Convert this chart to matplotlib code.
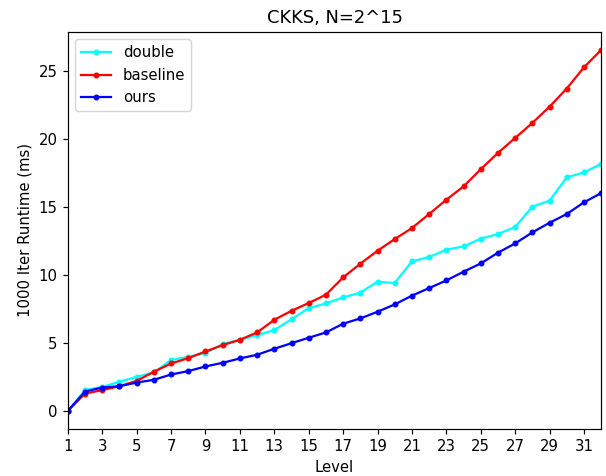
""" CKKS runtime per level plot"""

import matplotlib
matplotlib.use("Agg")
import matplotlib.pyplot as plt

levels = list(range(1, 33))

double = [0.0, 1.52, 1.76, 2.13, 2.5, 2.82, 3.73, 3.97, 4.26, 4.9,
          5.22, 5.56, 5.93, 6.72, 7.55, 7.89, 8.33, 8.68, 9.49, 9.39,
          10.98, 11.3, 11.84, 12.08, 12.65, 12.99, 13.5, 15.0, 15.44, 17.15,
          17.52, 18.14]
baseline = [0.0, 1.27, 1.52, 1.81, 2.2, 2.87, 3.48, 3.87, 4.36, 4.83,
            5.22, 5.76, 6.69, 7.35, 7.92, 8.53, 9.8, 10.81, 11.76, 12.62,
            13.43, 14.46, 15.51, 16.49, 17.75, 18.95, 20.05, 21.15, 22.35, 23.68,
            25.24, 26.52]
ours = [0.0, 1.42, 1.71, 1.81, 2.08, 2.28, 2.67, 2.92, 3.26, 3.53,
        3.85, 4.12, 4.56, 4.97, 5.37, 5.76, 6.4, 6.79, 7.28, 7.82,
        8.46, 9.02, 9.58, 10.22, 10.83, 11.62, 12.3, 13.11, 13.82, 14.46,
        15.32, 16.0]

# the reference looks like a default figure scaled up a bit, so use a higher dpi
dpi = 107.5
fig = plt.figure(figsize=(606 / dpi, 476 / dpi), dpi=dpi)
ax = fig.add_subplot(111)
fig.subplots_adjust(left=0.112, right=0.992, top=0.933, bottom=0.099)

ax.plot(levels, double, ".-", color="cyan", label="double")
ax.plot(levels, baseline, ".-", color="red", label="baseline")
ax.plot(levels, ours, ".-", color="blue", label="ours")

ax.set_xlim(1, 32)
ax.set_xticks(range(1, 32, 2))
ax.set_title("CKKS, N=2^15")
ax.set_xlabel("Level")
ax.set_ylabel("1000 Iter Runtime (ms)")
ax.legend(loc="upper left")

plt.savefig("out.png", dpi=dpi)
